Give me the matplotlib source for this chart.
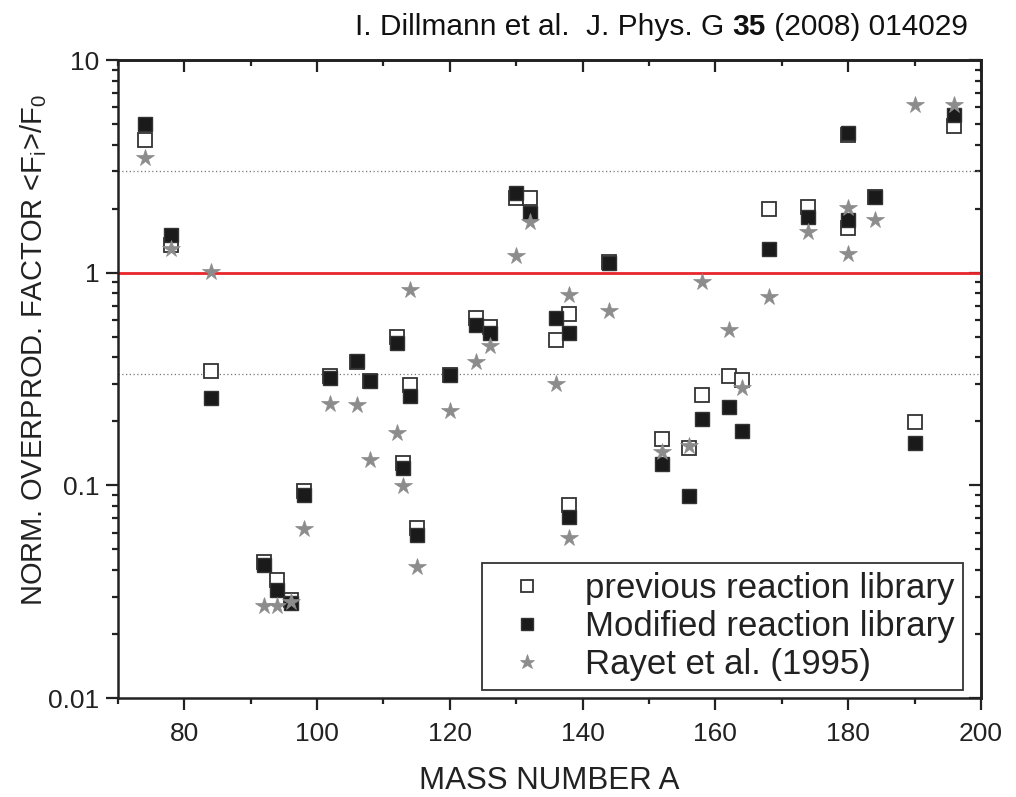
import numpy as np
import matplotlib
matplotlib.use("Agg")
import matplotlib.pyplot as plt
from matplotlib.ticker import MultipleLocator, LogLocator, FuncFormatter, NullFormatter

plt.rcParams['font.family'] = ['Liberation Sans', 'DejaVu Sans']

# p-nuclei mass numbers
mass = [74, 78, 84, 92, 94, 96, 98, 102, 106, 108, 112, 113, 114, 115, 120,
        124, 126, 130, 132, 136, 138, 138, 144, 152, 156, 158, 162, 164, 168,
        174, 180, 180, 184, 190, 196]

# previous reaction library (open squares)
prev_lib = [4.2, 1.35, 0.345, 0.0434, 0.0359, 0.0289, 0.0944, 0.327, 0.38, 0.31,
            0.50, 0.127, 0.296, 0.0628, 0.33, 0.611, 0.557, 2.24, 2.24, 0.483,
            0.637, 0.081, 1.12, 0.165, 0.150, 0.266, 0.328, 0.313, 1.99,
            2.03, 4.45, 1.63, 2.26, 0.198, 4.90]

# modified reaction library (filled squares)
mod_lib = [5.0, 1.50, 0.258, 0.042, 0.0322, 0.0279, 0.090, 0.321, 0.385, 0.31,
           0.466, 0.121, 0.263, 0.0584, 0.33, 0.567, 0.518, 2.36, 1.90, 0.615,
           0.522, 0.0713, 1.107, 0.1256, 0.089, 0.205, 0.234, 0.180, 1.29,
           1.83, 4.55, 1.77, 2.26, 0.159, 5.51]

# Rayet et al. (1995) (stars)
rayet = [3.45, 1.29, 1.01, 0.0271, 0.027, 0.0284, 0.0624, 0.240, 0.239, 0.1315,
         0.177, 0.0995, 0.830, 0.0415, 0.224, 0.379, 0.452, 1.198, 1.74, 0.299,
         0.785, 0.0564, 0.66, 0.144, 0.153, 0.908, 0.538, 0.286, 0.766,
         1.55, 2.01, 1.23, 1.76, 6.13, 6.13]

fig = plt.figure(figsize=(10.16, 7.97), dpi=100)
ax = fig.add_axes([0.1161, 0.1242, 0.8494, 0.8005])

# reference lines
ax.axhline(1.0, color='#e8262b', lw=2.0, zorder=2)
ax.axhline(3.0, color='#777777', lw=0.9, ls=(0, (1, 2)), zorder=1)
ax.axhline(1 / 3.0, color='#777777', lw=0.9, ls=(0, (1, 2)), zorder=1)

ax.plot(mass, prev_lib, ls='none', marker='s', ms=9.5, mfc='white', mec='#333333',
        mew=1.3, zorder=3, label='previous reaction library')
ax.plot(mass, mod_lib, ls='none', marker='s', ms=9.5, mfc='#1a1a1a', mec='#333333',
        mew=1.0, zorder=4, label='Modified reaction library')
ax.plot(mass, rayet, ls='none', marker='*', ms=13, mfc='#8c8c8c', mec='#8c8c8c',
        mew=0.5, zorder=5, label='Rayet et al. (1995)')

ax.set_yscale('log')
ax.set_xlim(70, 200)
ax.set_ylim(0.01, 10)

ax.xaxis.set_major_locator(MultipleLocator(20))
ax.xaxis.set_minor_locator(MultipleLocator(10))
ax.yaxis.set_major_locator(LogLocator(base=10))
ax.yaxis.set_minor_locator(LogLocator(base=10, subs=np.arange(2, 10)))
ax.yaxis.set_major_formatter(FuncFormatter(lambda v, p: '%g' % v))
ax.yaxis.set_minor_formatter(NullFormatter())

for s in ax.spines.values():
    s.set_linewidth(1.8)
    s.set_color('#222222')

ax.tick_params(which='both', direction='out', width=1.6, color='#222222',
               labelsize=19, labelcolor='#222222', top=False, right=False)
ax.tick_params(which='major', length=8.5)
ax.tick_params(which='minor', length=4.3)
ax.tick_params(axis='x', which='major', pad=9)
ax.tick_params(axis='y', which='major', pad=5)

# inward ticks on top and right
top = ax.secondary_xaxis('top')
top.xaxis.set_major_locator(MultipleLocator(20))
top.xaxis.set_minor_locator(MultipleLocator(10))
top.tick_params(which='both', direction='in', width=1.6, color='#222222', labeltop=False)
top.tick_params(which='major', length=8.5)
top.tick_params(which='minor', length=4.3)
top.spines['top'].set_linewidth(1.8)

right = ax.secondary_yaxis('right')
right.yaxis.set_major_locator(LogLocator(base=10))
right.yaxis.set_minor_locator(LogLocator(base=10, subs=np.arange(2, 10)))
right.yaxis.set_major_formatter(NullFormatter())
right.yaxis.set_minor_formatter(NullFormatter())
right.tick_params(which='both', direction='in', width=1.6, color='#222222', labelright=False)
right.tick_params(which='major', length=8.5)
right.tick_params(which='minor', length=4.3)
right.spines['right'].set_linewidth(1.8)

ax.set_xlabel('MASS NUMBER A', fontsize=22.5, color='#222222', labelpad=14)
ax.set_ylabel(r'NORM. OVERPROD. FACTOR <F$_\mathregular{i}$>/F$_\mathregular{0}$',
              fontsize=21, color='#222222')
ax.yaxis.set_label_coords(-0.080, 0.545)

leg = ax.legend(loc='lower right', bbox_to_anchor=(0.979, 0.0125), fontsize=25,
                frameon=True, fancybox=False, framealpha=1, edgecolor='#333333',
                handlelength=2.1, handletextpad=0.6, labelspacing=0.15,
                borderpad=0.25, borderaxespad=0, markerscale=0.85)
leg.get_frame().set_linewidth(1.3)
for t in leg.get_texts():
    t.set_color('#222222')

# header: I. Dillmann et al.  J. Phys. G 35 (2008) 014029
fig.canvas.draw()
r = fig.canvas.get_renderer()
parts = [('I. Dillmann et al.  J. Phys. G ', 'normal'), ('35', 'bold'),
         (' (2008) 014029', 'normal')]
x = 355 / 1016
for txt, w in parts:
    t = fig.text(x, 1 - 27 / 797, txt, fontsize=21.5, fontweight=w, color='#111111',
                 ha='left', va='center')
    bb = t.get_window_extent(renderer=r)
    x = (bb.x1) / fig.bbox.width

fig.savefig('out.png', dpi=100)
